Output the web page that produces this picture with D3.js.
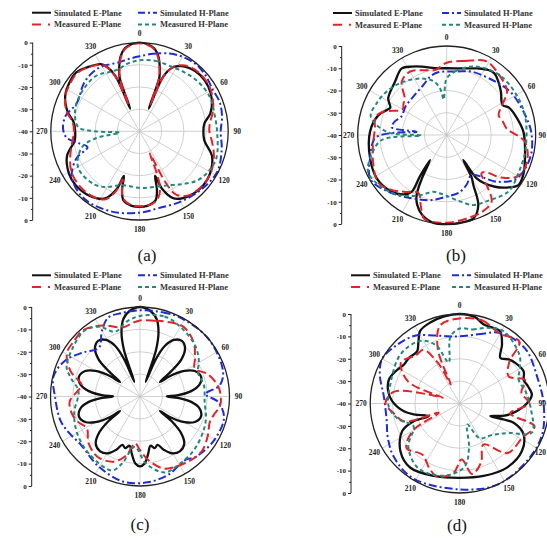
<!DOCTYPE html>
<html lang="en">
<head>
    <meta charset="UTF-8">
    <title>Radiation Patterns</title>
    <script src="https://cdnjs.cloudflare.com/ajax/libs/d3/7.8.5/d3.min.js"></script>
    <style>
        body { margin: 0; background: #fff; }
        svg text { opacity: 0.99; }
    </style>
</head>
<body>
<svg width="547" height="538"></svg>
<script>
    // series names, in legend order (row 1: col 1, col 2; row 2: col 1, col 2)
    const seriesNames = ['Simulated E-Plane', 'Simulated H-Plane', 'Measured E-Plane', 'Measured H-Plane'];
    const captions = ['(a)', '(b)', '(c)', '(d)'];
    const angleTicks = [0, 30, 60, 90, 120, 150, 180, 210, 240, 270, 300, 330];
    const gridLevels = [-10, -20, -30];
    const axisLabels = ['0', '-10', '-20', '-30', '-40', '-30', '-20', '-10', '0'];

    // [angle in degrees, level in dB]
    const aSimE = [[0,0],[5,-0.5],[10,-2],[14,-5],[17.5,-9.6],[20.2,-14],[22.3,-29],[23.5,-13],[27.9,-7.2],[33,-5],[39,-3.6],[47,-2.7],[57,-3],[67,-4.5],[76,-7.1],[83,-10.5],[90,-11.2],[98,-10.5],[109,-5.4],[121,-2.9],[130,-2.3],[142,-3.2],[153,-6],[158.5,-12],[160.7,-18.7],[163.5,-12.3],[167,-8],[174,-6.2],[180,-5.9],[186,-6.2],[193,-8],[196.5,-12.3],[199.3,-18.7],[201.5,-12],[207,-6],[218,-3.2],[230,-2.3],[239,-2.9],[251,-5.4],[262,-10.5],[270,-11],[278,-10],[285,-6.5],[295,-3],[305,-1.5],[313,-1],[322,-3],[330,-5],[333,-7.2],[336.5,-13],[337.7,-29],[339.8,-14],[342.5,-9.6],[346,-5],[350,-2],[355,-0.5]];
    const aSimH = [[0,-6.2],[10,-4.5],[21,-2.4],[30,-1.2],[40,-0.5],[50,-1],[60,-2],[70,-1.5],[80,-2.2],[90,-3.4],[102,-2.1],[117,-0.5],[132,-1.6],[149,-3.2],[166,-4.3],[180,-3.3],[199,-1.7],[220,-0.7],[236,-3.2],[247,-9.2],[253,-15.5],[259,-12],[265,-7],[272,-5.5],[282,-6],[294,-9],[312,-6.7],[327,-6],[343,-7.5],[352,-7]];
    const aMeasE = [[0,-0.3],[5,-0.8],[10,-2.3],[14,-5.5],[17.5,-10],[20.2,-14.5],[22.3,-27],[23.7,-13],[28,-7],[33,-4.5],[39,-3],[47,-2.3],[57,-2.5],[67,-4],[76,-6],[83,-8],[90,-8.5],[98,-7],[109,-4.5],[121,-2.7],[130,-2.5],[142,-3.5],[150,-7],[153,-14],[155,-29],[157.5,-20],[160,-13],[164,-9],[170,-6.8],[180,-6.2],[188,-6.8],[194,-9],[197,-13],[199.3,-17],[201.5,-11],[207,-5.5],[218,-3.6],[230,-3.5],[240,-4.4],[251,-7],[262,-9.5],[270,-10.5],[278,-9.5],[285,-6],[295,-3],[305,-2],[313,-1.5],[322,-3.2],[330,-5.3],[333,-7.5],[336.5,-13.5],[337.7,-27],[339.8,-14],[342.5,-10],[346,-5.5],[350,-2.3],[355,-0.8]];
    const aMeasH = [[0,-8],[13,-7.4],[26,-7.5],[38,-6.5],[50,-5.4],[64,-4.7],[78,-5.3],[92,-4.9],[109,-3.3],[120,-4],[130,-5.7],[140,-9],[150,-12],[165,-14],[180,-14.5],[198,-14.5],[210,-11],[220,-8.6],[239,-7.8],[254,-12.8],[261,-20],[266,-31],[270,-20],[274,-12.3],[287,-9.6],[301,-8.6],[321,-8.2],[340,-10.5],[350,-9]];

    const bSimE = [[0,-10],[15,-9],[25,-7],[32.7,-5.3],[38,-5],[44,-6.6],[52,-9],[58,-11],[62,-11.5],[66,-9.5],[73.7,-8],[87.5,-5.5],[104,-3.7],[117.5,-1.2],[125,-0.7],[131,-4],[137,-8.2],[142,-12.5],[145.3,-16.3],[146.5,-26.5],[149.5,-18],[152,-14.5],[155.7,-5.5],[162,-0.7],[172,0],[180,0],[188,0],[197,-2.4],[203,-6],[206.6,-9.8],[209.5,-17],[213.7,-26.5],[213,-18],[211.7,-10],[216,-7],[224,-4.5],[238,-3],[253,-4],[272.5,-5.5],[286,-8],[293,-11],[296,-11.8],[302,-9],[316,-6.6],[326,-3.9],[333,-5.5],[340,-7.3],[350,-9.5]];
    const bSimH = [[0,-11.5],[10,-11],[21.5,-9.4],[42,-7.6],[57,-5.3],[78,-3.3],[90,-1.8],[105,-1.1],[122,-3],[133,-9.2],[148,-18.8],[158,-16],[168,-13.5],[180,-12.3],[194,-9.8],[209,-7.5],[226,-3.4],[240,-0.4],[254,-4.2],[262,-6],[268,-8],[272,-15],[276,-26.4],[278,-15],[285,-16],[292,-18],[305,-17.5],[321,-17],[335,-15.2],[345,-12.5],[353,-11.5]];
    const bMeasE = [[0,-7.5],[14,-5.7],[28,-2.4],[40,-4],[54,-6.5],[62,-12],[69,-15],[77,-14],[84,-12.9],[95,-4.7],[109,-1.9],[120,-3],[128,-9],[134,-16],[138,-16.7],[142,-10],[146,-3.9],[155,-2],[165,-1.5],[180,-0.6],[195,-1],[200,-6],[206,-11],[216,-8.4],[225,-5],[235,-2.5],[249,-4.6],[262,-6.5],[275,-7.6],[284,-7],[290,-9.5],[300,-17],[306,-16],[311,-15],[320,-8.6],[330,-7.1],[340,-9],[350,-10.3]];
    const bMeasH = [[0,-14.5],[8,-11],[22.5,-6.7],[43,-4],[72,-3.7],[100,-4],[118,-3.5],[132.6,-2.4],[150,-5.4],[159,-6.3],[170,-10],[182,-13],[193,-13.8],[205,-10],[220,-5],[234,-2],[245,-1],[255,-5],[265.6,-10.7],[269,-28.5],[273,-13],[283.6,-4.9],[295,-5.5],[306,-6.7],[320,-9],[335,-12],[346,-15],[352,-19],[355,-24],[358,-18]];

    const cSimE = [[0,0],[7,-1.5],[12,-4.5],[16,-10],[19,-18],[21,-33],[23,-22],[26,-15],[31,-10.5],[37,-8.9],[43,-10.5],[48,-15],[51,-22],[54,-29],[56,-23],[60,-17],[65,-13],[72,-11.3],[79,-13],[84,-17],[88,-23],[90,-28],[92,-23],[96,-17],[101,-13],[108,-11.3],[115,-13],[120,-17],[124,-23],[126,-29],[128,-22],[132,-15],[137,-11],[144,-9.7],[151,-11],[156,-14],[160,-17],[164,-16],[168,-17.5],[172,-14],[176,-10],[180,-8.8],[184,-10],[188,-14],[192,-17.5],[196,-16],[200,-17],[204,-14],[209,-11],[216,-9.7],[223,-11],[228,-15],[232,-22],[234,-29],[236,-23],[240,-17],[245,-13],[252,-11.3],[259,-13],[264,-17],[268,-23],[270,-28],[272,-23],[276,-17],[281,-13],[288,-11.3],[295,-13],[300,-17],[304,-23],[306,-29],[309,-22],[312,-15],[317,-10.5],[323,-8.9],[329,-10.5],[334,-15],[337,-22],[339,-33],[341,-18],[344,-10],[348,-4.5],[353,-1.5]];
    const cSimH = [[0,-1.5],[15,-1],[28,-0.4],[50,0],[73,-1.2],[82,-4],[88,-10.7],[94,-5],[104,-1.3],[120,-1.5],[136.6,-3.2],[145,-5.2],[160,-2.8],[175,-1.5],[191,-1.2],[211,-3.7],[230,-5.9],[245,-4],[254,-2.8],[270,-2],[283,-0.3],[296,-3],[308,-8],[320,-11.5],[330,-6],[338,-2],[347,-1.8]];
    const cMeasE = [[0,-6],[11,-5.5],[20,-4.5],[32,-3.3],[45,-6],[55,-10],[63,-12.5],[72,-8],[84,-4.5],[96,-3.9],[104,-6],[110,-6.8],[120,-5],[132,-3.1],[145,-4],[161,-5.9],[172,-11],[180,-16],[186,-19],[193,-13],[202,-8.6],[215,-7],[228,-9],[239,-12.3],[248,-10],[256,-8.6],[266,-8.5],[275,-12],[281,-13.5],[290,-7],[300.6,-2],[310,-1.5],[319.6,-1],[332,-4],[346.5,-8.2],[354,-7]];
    const cMeasH = [[0,-4],[17,-2.6],[30,-4],[47,-6.4],[58,-9],[68,-12],[80,-11],[95,-11],[108,-9],[119,-7.7],[135,-6],[150,-5],[162,-4.3],[175,-10],[186,-17.4],[195,-9],[201,-4.6],[222,-5.8],[240,-7.5],[256,-9.7],[275,-12.4],[285,-8],[292,-4.6],[305,-3],[320,-1.5],[330,-4],[339,-9],[350,-6]];

    const dSimE = [[0,0],[10,-0.8],[17,-3.1],[24,-3],[29.3,-3],[35.7,-7.6],[41.7,-12.7],[48,-10.5],[53.8,-9.2],[63.2,-8],[70,-9.5],[76,-8.5],[83,-7.5],[90,-10],[99.8,-15.6],[106,-20],[112.4,-25.2],[109.7,-14.4],[115.8,-8.3],[127.4,-5],[143.6,-4.4],[161.7,-5.9],[180,-6.8],[199.7,-5.6],[217.5,-3.8],[231.2,-6],[244.4,-11.5],[249,-18],[247.8,-25],[256.5,-19],[262,-14.8],[272,-9.8],[280,-7.5],[288.7,-6.6],[297,-8],[305,-9.6],[312,-9.5],[320.8,-9.9],[326,-7],[331.6,-3],[340,-1.5],[350,-0.5]];
    const dSimH = [[0,-10],[15,-8],[30,-3.6],[50,-1.8],[73,-3.4],[90,-2.5],[111,-0.6],[130,-0.5],[155,0],[180,-1.6],[212,-0.6],[231,-2.1],[245,-4.5],[257,-6.5],[275,-6],[290,-2],[300,0],[312,-1.5],[326,-3.6],[339,-7.4],[350,-9.5]];
    const dMeasE = [[0,-2],[15,-1.5],[30,-4],[44,-1.6],[50,-11],[61,-15],[70,-9],[80,-12],[90,-9],[101,-17],[107,-5],[118,-8],[136,-9.2],[150,-18.8],[160,-12],[170,-8],[178,-15],[185,-9],[197,-5.8],[205,-8],[216,-11.7],[230,-9],[240,-16],[246,-29.7],[252,-14],[262,-10],[270,-6.8],[280,-10],[286,-25],[289,-32],[293,-15],[305,-8],[318,-11],[326,-11],[332,-20],[335,-30.6],[338,-14],[346,-4]];
    const dMeasH = [[0,-6.5],[10,-6.4],[20,-4],[31,-2.2],[51,-5.6],[60,-9],[68,-11.6],[80,-10],[95,-8],[112,-5.2],[121,-14.4],[135,-20],[150,-22],[160,-30],[168,-20],[175,-12],[187,-8],[200,-6],[214,-5.8],[230,-10],[244,-17],[255,-12],[267,-8.3],[286,-7.8],[310,-5.6],[328,-7],[338,-12],[345,-21],[352,-10]];

    // same order as seriesNames
    const styles = [
        {color: '#111', width: 2.3, dash: null, legendDash: null},
        {color: '#1f2bd9', width: 2, dash: '8,3,2,3', legendDash: '7,3,2,3'},
        {color: '#e3232a', width: 2, dash: '9,4', legendDash: '9,7,2,10'},
        {color: '#23877c', width: 2, dash: '4,3', legendDash: '4,3'}
    ];

    const panels = [
        {cx: 139.5, cy: 131.3, R: 88.7, axisX: 32.7, legY: 12.7, legX: [32, 138], capX: 147, capY: 255, series: [aSimE, aSimH, aMeasE, aMeasH]},
        {cx: 446.7, cy: 135, R: 89, axisX: 341.7, legY: 13, legX: [333, 442], capX: 456, capY: 255, series: [bSimE, bSimH, bMeasE, bMeasH]},
        {cx: 140, cy: 396.5, R: 89.5, axisX: 31.7, legY: 275.3, legX: [32, 138], capX: 140, capY: 524, series: [cSimE, cSimH, cMeasE, cMeasH]},
        {cx: 459.7, cy: 403.5, R: 89.5, axisX: 351, legY: 275.3, legX: [351, 452], capX: 457, capY: 525, series: [dSimE, dSimH, dMeasE, dMeasH]}
    ];

    const W = 547;
    const svg = d3.select('svg');
    const serif = '"Liberation Serif", "Times New Roman", serif';
    const angle = d3.scaleLinear().domain([0, 360]).range([0, 2 * Math.PI]);

    panels.forEach((p, pi) => {
        const r = d3.scaleLinear().domain([-40, 0]).range([0, p.R]).clamp(true);
        const g = svg.append('g').attr('transform', `translate(${p.cx},${p.cy})`);

        // grid circles
        g.selectAll('circle.grid')
            .data(gridLevels)
            .join('circle')
            .attr('class', 'grid')
            .attr('r', d => r(d))
            .attr('fill', 'none')
            .attr('stroke', '#c4c4c4')
            .attr('stroke-width', 0.8);

        // radial grid lines
        g.selectAll('line.spoke')
            .data(angleTicks)
            .join('line')
            .attr('class', 'spoke')
            .attr('x1', 0).attr('y1', 0)
            .attr('x2', d => r(0) * Math.sin(angle(d)))
            .attr('y2', d => -r(0) * Math.cos(angle(d)))
            .attr('stroke', '#c4c4c4')
            .attr('stroke-width', 0.8);

        // data curves
        const line = d3.lineRadial()
            .angle(d => angle(d[0]))
            .radius(d => r(d[1]))
            .curve(d3.curveCatmullRomClosed.alpha(0.5));

        p.series.forEach((s, si) => {
            g.append('path')
                .attr('class', 'curve')
                .attr('d', line(s))
                .attr('fill', 'none')
                .attr('stroke', styles[si].color)
                .attr('stroke-width', styles[si].width)
                .attr('stroke-dasharray', styles[si].dash);
        });

        // outer circle
        g.append('circle')
            .attr('r', r(0))
            .attr('fill', 'none')
            .attr('stroke', '#222')
            .attr('stroke-width', 1.3);

        // angle labels (kept inside the page at the right edge)
        const labR = r(0) + 9;
        angleTicks.forEach(d => {
            let x = labR * Math.sin(angle(d));
            let anchor = 'middle';
            if (p.cx + x + 6 > W) {
                x = W - 1 - p.cx;
                anchor = 'end';
            }
            g.append('text')
                .attr('class', 'ang')
                .attr('x', x)
                .attr('y', -labR * Math.cos(angle(d)))
                .attr('dy', '0.35em')
                .attr('text-anchor', anchor)
                .attr('font-family', serif)
                .attr('font-weight', 'bold')
                .attr('font-size', '7.5px')
                .style('fill', '#222')
                .text(d);
        });

        // left dB axis
        const yPos = d3.scaleLinear().domain([0, 8]).range([p.cy - p.R, p.cy + p.R]);
        const axisG = svg.append('g')
            .attr('transform', `translate(${p.axisX},0)`)
            .call(d3.axisLeft(yPos)
                .tickValues(d3.range(9))
                .tickFormat(i => axisLabels[i])
                .tickSize(3)
                .tickPadding(2));
        svg.append('g')
            .attr('transform', `translate(${p.axisX},0)`)
            .call(d3.axisLeft(yPos)
                .tickValues(d3.range(0.5, 8, 1))
                .tickFormat('')
                .tickSize(1.8))
            .call(a => a.select('.domain').remove());
        axisG.select('.domain').attr('d', `M0,${p.cy - p.R}V${p.cy + p.R}`).attr('stroke', '#222');
        axisG.selectAll('text')
            .attr('font-family', serif)
            .attr('font-weight', 'bold')
            .attr('font-size', '7px')
            .style('fill', '#222');
        svg.selectAll('.tick line').attr('stroke', '#222');

        // legend
        const leg = svg.append('g');
        seriesNames.forEach((name, si) => {
            const x0 = p.legX[si % 2];
            const y0 = p.legY + Math.floor(si / 2) * 11.7;
            leg.append('line')
                .attr('x1', x0).attr('x2', x0 + 19)
                .attr('y1', y0).attr('y2', y0)
                .attr('stroke', styles[si].color)
                .attr('stroke-width', 2)
                .attr('stroke-dasharray', styles[si].legendDash);
            leg.append('text')
                .attr('x', x0 + 22)
                .attr('y', y0)
                .attr('dy', '0.35em')
                .attr('font-family', serif)
                .attr('font-weight', 'bold')
                .attr('font-size', '8.5px')
                .style('fill', '#333')
                .text(name);
        });

        // caption
        svg.append('text')
            .attr('x', p.capX)
            .attr('y', p.capY)
            .attr('dy', '0.35em')
            .attr('text-anchor', 'middle')
            .attr('font-family', serif)
            .attr('font-size', '17px')
            .style('fill', '#111')
            .text(captions[pi]);
    });
</script>
</body>
</html>
